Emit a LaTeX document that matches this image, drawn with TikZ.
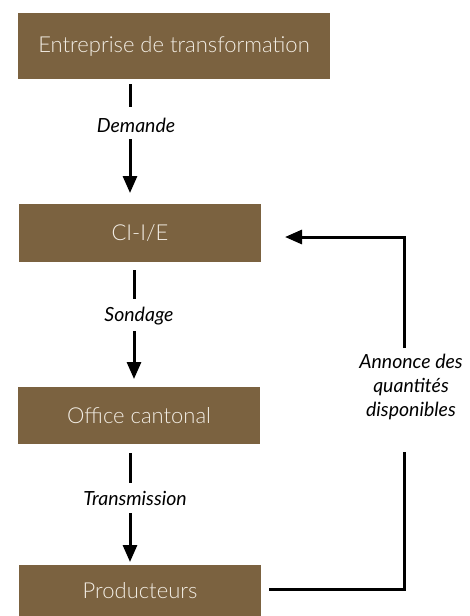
\documentclass[tikz,border=0pt]{standalone}
\usepackage{fontspec}
\setmainfont{Lato}
\newfontfamily\boxfont{Lato Light}
\usetikzlibrary{arrows.meta}
\definecolor{boxbrown}{HTML}{7B6240}
\definecolor{boxtext}{HTML}{F2EDE4}
\tikzset{
  stepbox/.style={fill=boxbrown, draw=none, inner sep=0pt, text=boxtext,
    font=\boxfont\fontsize{22}{26}\selectfont},
  flowline/.style={line width=3pt},
  flowarrow/.style={line width=3pt, -{Triangle[width=14pt,length=17pt]}},
  flowlabel/.style={font=\itshape\fontsize{19.5}{24}\selectfont, inner sep=0pt, align=center}
}
\begin{document}
\begin{tikzpicture}[x=1pt,y=-1pt]
\useasboundingbox (0,0) rectangle (469,616);
\node[stepbox, minimum width=312pt, minimum height=66pt] (ent) at (174,46) {Entreprise de transformation};
\node[stepbox, minimum width=242pt, minimum height=58pt] (ci) at (140,233) {CI-I/E};
\node[stepbox, minimum width=242pt, minimum height=57pt] (off) at (139,415.5) {Office cantonal};
\node[stepbox, minimum width=242pt, minimum height=51pt] (prod) at (140,590.5) {Producteurs};
% arrow 1
\coordinate (a1s) at (130,84);
\coordinate (a1m) at (130,107);
\node[flowlabel] (l1) at (136,125) {Demande};
\coordinate (a1r) at (130,139);
\coordinate (a1e) at (130,193);
\draw[flowline] (a1s) -- (a1m);
\draw[flowarrow] (a1r) -- (a1e);
% arrow 2
\coordinate (a2s) at (134,270);
\coordinate (a2m) at (134,299);
\node[flowlabel] (l2) at (139,316) {Sondage};
\coordinate (a2r) at (134,331);
\coordinate (a2e) at (134,379);
\draw[flowline] (a2s) -- (a2m);
\draw[flowarrow] (a2r) -- (a2e);
% arrow 3
\coordinate (a3s) at (130,453);
\coordinate (a3m) at (130,483);
\node[flowlabel] (l3) at (135,498) {Transmission};
\coordinate (a3r) at (130,513);
\coordinate (a3e) at (130,562);
\draw[flowline] (a3s) -- (a3m);
\draw[flowarrow] (a3r) -- (a3e);
% feedback
\coordinate (fb1) at (269,589);
\coordinate (fb2) at (404,589);
\coordinate (fb3) at (404,452);
\node[flowlabel] (l4) at (411,387) {Annonce des\\quantités\\disponibles};
\coordinate (fb4) at (404,348);
\coordinate (fb5) at (404,237);
\coordinate (fb6) at (285,237);
\draw[flowline] (fb1) -- (fb2) -- (fb3);
\draw[flowarrow] (fb4) -- (fb5) -- (fb6);
\end{tikzpicture}
\end{document}
